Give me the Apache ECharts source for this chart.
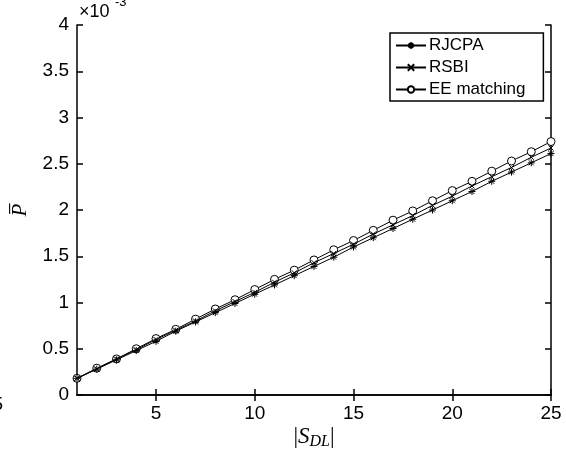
<!DOCTYPE html>
<html>
<head>
<meta charset="utf-8">
<script src="https://cdn.jsdelivr.net/npm/echarts@6/dist/echarts.min.js"></script>
<style>html,body{margin:0;padding:0;background:#fff}#c{width:566px;height:457px}</style>
</head>
<body>
<div id="c"></div>
<script>
// x categories: |S_DL|
const sdl = [1,2,3,4,5,6,7,8,9,10,11,12,13,14,15,16,17,18,19,20,21,22,23,24,25];
// values in units of 1e-3
const rjcpa = [0.18,0.28,0.38,0.48,0.58,0.69,0.79,0.89,0.99,1.09,1.19,1.29,1.39,1.49,1.60,1.70,1.80,1.90,2.00,2.10,2.20,2.31,2.41,2.51,2.61];
const rsbi  = [0.18,0.28,0.39,0.49,0.60,0.70,0.80,0.91,1.01,1.11,1.22,1.32,1.43,1.53,1.63,1.74,1.84,1.94,2.05,2.15,2.26,2.36,2.46,2.57,2.67];
const eem   = [0.18,0.29,0.39,0.50,0.61,0.71,0.82,0.93,1.03,1.14,1.25,1.35,1.46,1.57,1.67,1.78,1.89,1.99,2.10,2.21,2.31,2.42,2.53,2.63,2.74];
const xTicks = [5,10,15,20,25];
const seriesNames = ['RJCPA','RSBI','EE matching'];

const pair = (ys) => sdl.map((x,i)=>[x, ys[i]]);
const ASTER = 'path://M5 0L5 10M0 5L10 5M1.5 1.5L8.5 8.5M8.5 1.5L1.5 8.5';
const CROSS = 'path://M0 0L10 10M10 0L0 10';
const tickFont = {color:'#000', fontSize:19, fontFamily:'Liberation Sans, Arial, sans-serif'};
const axisLine = {show:true, lineStyle:{color:'#000', width:1.5}};

const chart = echarts.init(document.getElementById('c'), null, {renderer:'canvas'});
const mk = (name, data, symbol, size, fill, bw, z) => ({
  name, type:'line', data: pair(data), symbol, symbolSize:size, showSymbol:true,
  xAxisIndex:0, yAxisIndex:0, z,
  lineStyle:{color:'#000', width:1},
  itemStyle:{color:fill, borderColor:'#000', borderWidth:bw},
  emphasis:{disabled:true},
  animation:false
});
chart.setOption({
  animation:false,
  backgroundColor:'#fff',
  grid:{left:77, right:15, top:25, bottom:62},
  xAxis:[
    {type:'value', min:1, max:25, position:'bottom', axisLine,
     axisTick:{show:true, inside:true, length:6, customValues:xTicks, lineStyle:{color:'#000', width:1.5}},
     axisLabel:{show:true, customValues:xTicks, margin:9, ...tickFont},
     splitLine:{show:false}},
    {type:'value', min:1, max:25, position:'top', axisLine,
     axisTick:{show:true, inside:true, length:6, customValues:xTicks, lineStyle:{color:'#000', width:1.5}},
     axisLabel:{show:false}, splitLine:{show:false}}
  ],
  yAxis:[
    {type:'value', min:0, max:4, interval:0.5, position:'left', axisLine,
     axisTick:{show:true, inside:true, length:6, lineStyle:{color:'#000', width:1.5}},
     axisLabel:{show:true, margin:8, ...tickFont},
     splitLine:{show:false}},
    {type:'value', min:0, max:4, interval:0.5, position:'right', axisLine,
     axisTick:{show:true, inside:true, length:6, lineStyle:{color:'#000', width:1.5}},
     axisLabel:{show:false}, splitLine:{show:false}}
  ],
  legend:{
    orient:'vertical', left:390, top:33,
    data: seriesNames,
    itemWidth:30, itemHeight:8, itemGap:5,
    padding:[4,18,3,5],
    borderColor:'#000', borderWidth:1.5, backgroundColor:'#fff',
    textStyle:{color:'#000', fontSize:17, fontFamily:'Liberation Sans, Arial, sans-serif', padding:[0,0,0,-2]}
  },
  series:[
    mk(seriesNames[0], rjcpa, ASTER, 7, '#000', 1, 4),
    mk(seriesNames[1], rsbi, CROSS, 5, '#000', 1, 3),
    mk(seriesNames[2], eem, 'circle', 8, '#fff', 1, 2)
  ],
  graphic:[
    {type:'text', x:20, y:210, rotation:Math.PI/2,
     style:{text:'P\u0305', font:'italic 21px "Liberation Serif", serif', fill:'#000', align:'center', verticalAlign:'middle'}},
    {type:'text', x:314, y:437,
     style:{text:'{p||}{s|S}{d|DL}{p||}', align:'center', verticalAlign:'middle', fill:'#000',
       rich:{p:{font:'23px "Liberation Serif", serif'}, s:{font:'italic 23px "Liberation Serif", serif'}, d:{font:'italic 16px "Liberation Serif", serif', padding:[9,0,0,0]}}}},
    {type:'text', x:79, y:21,
     style:{text:'\u00d710', font:'18px "Liberation Sans", Arial, sans-serif', fill:'#000', align:'left', verticalAlign:'bottom'}},
    {type:'text', x:115, y:9,
     style:{text:'-3', font:'13px "Liberation Sans", Arial, sans-serif', fill:'#000', align:'left', verticalAlign:'bottom'}},
    {type:'text', x:3, y:405,
     style:{text:'5', font:'19px "Liberation Sans", Arial, sans-serif', fill:'#000', align:'right', verticalAlign:'middle'}}
  ]
});
</script>
</body>
</html>
